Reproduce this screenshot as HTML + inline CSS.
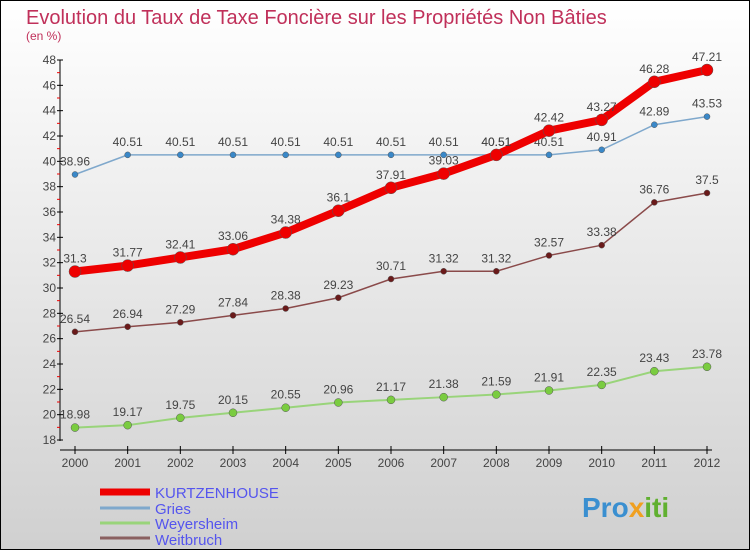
<!DOCTYPE html>
<html><head><meta charset="utf-8"><style>
body{margin:0}
#c{width:750px;height:550px;position:relative;box-sizing:border-box;border:1px solid #000;background:linear-gradient(#fff,#d0d0d0);font-family:"Liberation Sans",sans-serif;overflow:hidden}
</style></head><body>
<div id="c">
<svg id="s" width="750" height="550" style="position:absolute;left:-1px;top:-1px">
<text x="26" y="24" font-size="20" fill="#c0305a">Evolution du Taux de Taxe Foncière sur les Propriétés Non Bâties</text>
<text x="26" y="40" font-size="12" fill="#c0305a">(en %)</text>
<g id="ax"></g><g id="ser"></g>
<g>
<line x1="100" y1="492" x2="150" y2="492" stroke="#e00" stroke-width="7"/><text x="155" y="498" font-size="15" fill="#5555ee">KURTZENHOUSE</text>
<line x1="100" y1="508" x2="150" y2="508" stroke="#7fa8cc" stroke-width="3"/><text x="155" y="514" font-size="15" fill="#5555ee">Gries</text>
<line x1="100" y1="523" x2="150" y2="523" stroke="#99d47a" stroke-width="3"/><text x="155" y="529" font-size="15" fill="#5555ee">Weyersheim</text>
<line x1="100" y1="538" x2="150" y2="538" stroke="#8a6060" stroke-width="3"/><text x="155" y="545" font-size="15" fill="#5555ee">Weitbruch</text>
</g>
<text x="582" y="517" font-size="28" font-weight="bold" fill="#3a8fd0">Pro<tspan fill="#f0a020">x</tspan><tspan fill="#60b030">iti</tspan></text>
</svg></div>
<script>
const years=[2000,2001,2002,2003,2004,2005,2006,2007,2008,2009,2010,2011,2012];
const kurtz=[31.3,31.77,32.41,33.06,34.38,36.1,37.91,39.03,40.51,42.42,43.27,46.28,47.21];
const gries=[38.96,40.51,40.51,40.51,40.51,40.51,40.51,40.51,40.51,40.51,40.91,42.89,43.53];
const weyer=[18.98,19.17,19.75,20.15,20.55,20.96,21.17,21.38,21.59,21.91,22.35,23.43,23.78];
const weit=[26.54,26.94,27.29,27.84,28.38,29.23,30.71,31.32,31.32,32.57,33.38,36.76,37.5];
const yTicks=[18,20,22,24,26,28,30,32,34,36,38,40,42,44,46,48];
const NS="http://www.w3.org/2000/svg";
const X=i=>75+i*(632/12), Y=v=>440-(v-18)*(380/30);
function mk(p,t,a){const e=document.createElementNS(NS,t);for(const k in a)e.setAttribute(k,a[k]);p.appendChild(e);return e;}
const ax=document.getElementById('ax'),ser=document.getElementById('ser');
mk(ax,'line',{x1:60,y1:60,x2:60,y2:441,stroke:'#000'});
mk(ax,'line',{x1:60,y1:450,x2:712,y2:450,stroke:'#000'});
yTicks.forEach(v=>{mk(ax,'line',{x1:57,y1:Y(v),x2:63,y2:Y(v),stroke:'#000'});
 if(v<48)mk(ax,'line',{x1:57,y1:Y(v+1),x2:60,y2:Y(v+1),stroke:'#e00'});
 const t=mk(ax,'text',{x:56,y:Y(v)+4,'font-size':12,fill:'#444','text-anchor':'end'});t.textContent=v;
 
 });
years.forEach((y,i)=>{mk(ax,'line',{x1:X(i),y1:446,x2:X(i),y2:454,stroke:'#000'});
 const t=mk(ax,'text',{x:X(i),y:467,'font-size':12,fill:'#444','text-anchor':'middle'});t.textContent=y;
 
 });
function series(d,col,w,r,fill,name){
 const g=mk(ser,'g',{});
 
 
 mk(g,'polyline',{points:d.map((v,i)=>X(i)+','+Y(v)).join(' '),fill:'none',stroke:col,'stroke-width':w,'stroke-linejoin':'round'});
 d.forEach((v,i)=>{const c=mk(g,'circle',{cx:X(i),cy:Y(v),r:r,fill:fill,stroke:'#555','stroke-width':0.5});
  
  
  const t=mk(g,'text',{x:X(i),y:Y(v)-9,'font-size':12,fill:'#444','text-anchor':'middle'});t.textContent=v;});
}
series(weyer,'#99d47a',2,4,'#7acc40','series-weyersheim');
series(weit,'#8a4a4a',1.5,3,'#6a1a1a','series-weitbruch');
series(gries,'#7fa8cc',1.5,3,'#3a88c8','series-gries');
series(kurtz,'#e00',8,6,'#e00','series-kurtzenhouse');
</script></body></html>
